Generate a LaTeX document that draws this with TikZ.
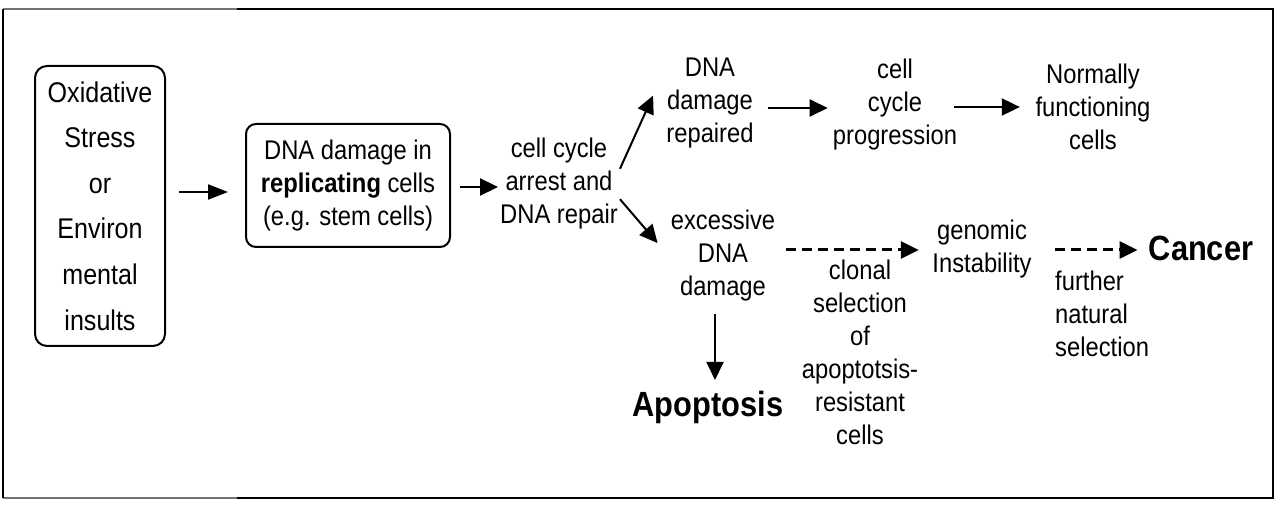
\documentclass[tikz,border=0pt]{standalone}
\usepackage{fontspec}
\setmainfont{Liberation Sans}[FakeStretch=0.88]
\usetikzlibrary{arrows.meta, positioning, calc}

\begin{document}
\begin{tikzpicture}[x=1pt, y=-1pt,
	txt/.style={align=center, inner sep=2pt, font=\fontsize{27}{33}\selectfont},
	big/.style={inner sep=2pt, font=\fontsize{35}{40}\selectfont\bfseries},
	arr/.style={line width=2pt, -{Triangle[length=18pt,width=17pt]}},
	dsh/.style={line width=3pt, dash pattern=on 10pt off 6pt, -{Triangle[length=18pt,width=17pt]}}]
	\useasboundingbox (0,0) rectangle (1280,510);
	% frame
	\draw[line width=2.5pt] (237,9) -- (1273,9) -- (1273,498) -- (237,498);
	\draw[line width=2pt, black!55] (237,9) -- (3,9);
	\draw[line width=2pt, black!55] (3,498) -- (237,498);
	\draw[line width=2.5pt] (3,9) -- (3,498);
	% boxes
	\node[draw, rounded corners=12pt, line width=2pt, minimum width=130pt, minimum height=280pt, txt, font=\fontsize{28.5}{45.6}\selectfont] (a) at (100,206) {Oxidative\\Stress\\or\\Environ\\mental\\insults};
	\node[draw, rounded corners=10pt, line width=2pt, minimum width=204pt, minimum height=123pt, txt] (b) at (348,185.5) {DNA damage in\\\textbf{replicating} cells\\(e.g. stem cells)};
	% texts
	\node[txt] (c) at (559,184) {cell cycle\\arrest and\\DNA repair};
	\node[txt] (d) at (710,103) {DNA\\damage\\repaired};
	\node[txt] (e) at (895,105) {cell\\cycle\\progression};
	\node[txt] (f) at (1093,107) {Normally\\functioning\\cells};
	\node[txt] (g) at (723,256) {excessive\\DNA\\damage};
	\node[txt] (h) at (860,352) {clonal\\selection\\of\\apoptotsis-\\resistant\\cells};
	\node[txt] (i) at (982,249) {genomic\\Instability};
	\node[big] (j) at (1201,248) {Cancer};
	\node[txt, align=left, anchor=west] (k) at (1053,314) {further\\natural\\selection};
	\node[big] (l) at (708,407) {Apoptosis};
	% arrows
	\draw[arr, -{Triangle[length=20pt,width=15pt]}, shorten <=13pt, shorten >=17pt] ([yshift=14pt]a.east) -- ([yshift=-6.5pt]b.west);
	\draw[arr, shorten <=9pt] ([yshift=-1.5pt]b.east) -- ([yshift=-1.5pt]b.east -| c.west);
	\draw[arr, shorten >=27pt] (c.14) -- (d.145);
	\draw[arr, shorten >=17pt] (c.346) -- (g.west);
	\draw[arr, shorten <=12pt, shorten >=3pt] ([yshift=-5pt]d.east) -- ([yshift=-5pt]d.east -| e.west);
	\draw[arr, shorten <=-5pt, shorten >=13.5pt] ([yshift=-2pt]e.east) -- ([yshift=-2pt]e.east -| f.west);
	\draw[dsh, shorten <=9pt, shorten >=11.5pt] ([yshift=6pt]g.east) -- ([yshift=6pt]g.east -| i.west);
	\draw[dsh, shorten <=21.5pt, shorten >=9pt] ([yshift=-1pt]i.east) -- ([yshift=-1pt]i.east -| j.west);
	\draw[arr, shorten <=10pt, shorten >=8.5pt] ([xshift=-8pt]g.south) -- ([xshift=-8pt]g.south |- l.north);
\end{tikzpicture}
\end{document}
